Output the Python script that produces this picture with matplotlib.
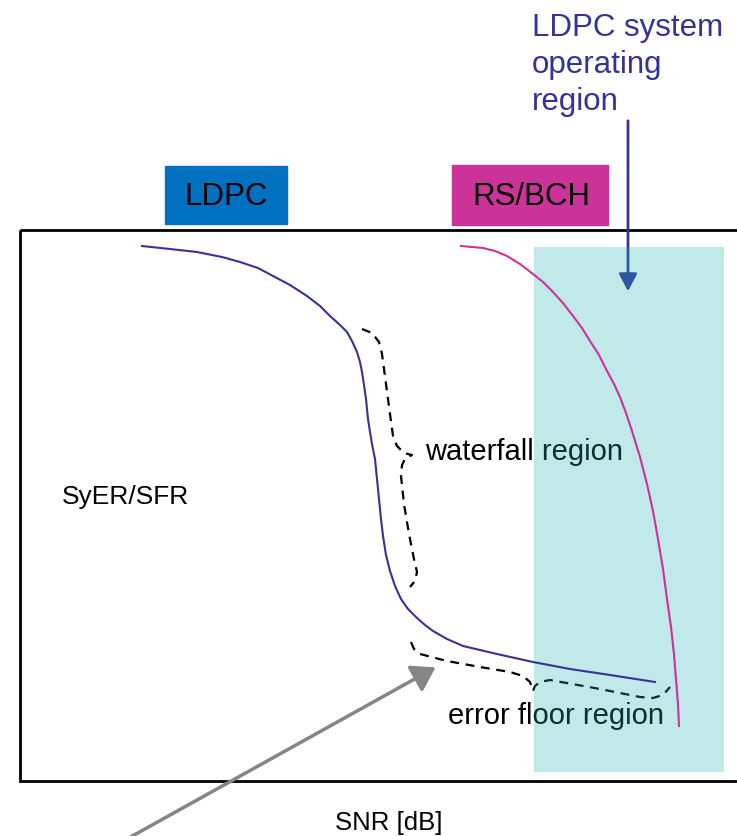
"""
Schematic: LDPC vs RS/BCH error-rate curves with waterfall / error floor regions
"""
import matplotlib.pyplot as plt
from matplotlib.patches import Rectangle

plt.rcParams['font.family'] = ['Liberation Sans', 'DejaVu Sans']

# curve outlines (canvas pixels, y grows downwards)
ldpc_x = [142, 170, 197, 222, 240, 258, 273, 290, 307, 320, 330, 340, 347, 352, 357, 360, 362, 364,
          366, 368, 370, 372, 375, 377, 379, 381, 383, 386, 390, 395, 401, 408, 417, 425, 433, 447,
          463, 480, 497, 533, 570, 610, 655]
ldpc_y = [247, 250, 253, 258, 263, 269, 277, 286, 297, 307, 317, 326, 333, 342, 353, 363, 373, 386,
          400, 420, 433, 445, 460, 480, 500, 520, 537, 556, 572, 587, 600, 610, 619, 626, 632, 640,
          647, 651, 655, 663, 670, 676, 683]

rs_x = [461, 472, 483, 495, 507, 520, 533, 543, 553, 563, 573, 582, 590, 599, 607, 614, 620, 626,
        632, 640, 647, 653, 658, 663, 667, 671, 674, 676, 678, 679]
rs_y = [247, 248, 249, 252, 257, 265, 275, 283, 293, 304, 317, 329, 342, 356, 372, 385, 398, 414,
        432, 458, 485, 512, 540, 570, 600, 628, 655, 680, 705, 727]

# dashed braces
wf_x = [362, 372, 379, 382, 386, 390, 393, 397, 404, 412, 405, 402, 401, 404, 409, 414, 417, 415, 410]
wf_y = [330, 334, 343, 355, 385, 415, 437, 447, 454, 456, 460, 466, 477, 505, 535, 560, 573, 582, 588]

ef_x = [411, 414, 420, 447, 480, 510, 523, 530, 533, 535, 540, 550, 600, 640, 653, 663, 670]
ef_y = [643, 650, 655, 662, 668, 673, 677, 683, 692, 687, 683, 681, 690, 698, 699, 696, 688]

blue = '#333399'
magenta = '#cc3399'

fig = plt.figure(figsize=(7.37, 8.37), dpi=100)
ax = fig.add_axes([0, 0, 1, 1])
ax.set_xlim(0, 737)
ax.set_ylim(837, 0)
ax.axis('off')

# frame (right side runs off the canvas)
ax.add_patch(Rectangle((20, 231), 760, 551, fill=False, edgecolor='black', lw=2, clip_on=False))

# code labels
ax.add_patch(Rectangle((165, 167), 122, 58, color='#0070c0'))
ax.text(226, 197, 'LDPC', fontsize=22.5, ha='center', va='center')
ax.add_patch(Rectangle((452, 166), 156, 60, color=magenta))
ax.text(531, 197, 'RS/BCH', fontsize=22.5, ha='center', va='center')

ax.text(532, 65, 'LDPC system\noperating\nregion', fontsize=22.5, color=blue,
        ha='left', va='center', linespacing=1.32)
ax.annotate('', xy=(628, 295), xytext=(628, 119),
            arrowprops=dict(arrowstyle='-|>,head_width=0.55,head_length=1.05', color=blue, lw=2))

ax.text(62, 497, 'SyER/SFR', fontsize=19, va='center')
ax.text(335, 823, 'SNR [dB]', fontsize=18.5, va='center')
ax.text(425, 452, 'waterfall region', fontsize=21, va='center')
ax.text(448, 716, 'error floor region', fontsize=21, va='center')

ax.plot(wf_x, wf_y, color='black', lw=1.6, ls=(0, (4, 3)))
ax.plot(ef_x, ef_y, color='black', lw=1.6, ls=(0, (4, 3)))

# shaded operating region, over the text
ax.add_patch(Rectangle((534, 248), 190, 525, color='#23b0b0', alpha=0.28, lw=0, zorder=4))

ax.plot(ldpc_x, ldpc_y, color=blue, lw=1.5, zorder=5)
ax.plot(rs_x, rs_y, color=magenta, lw=1.5, zorder=5)

ax.annotate('', xy=(438, 667), xytext=(100, 855),
            arrowprops=dict(arrowstyle='-|>,head_width=0.9,head_length=1.4', color='#858585', lw=2.5),
            annotation_clip=False, zorder=6)

fig.savefig('out.png', dpi=100)
